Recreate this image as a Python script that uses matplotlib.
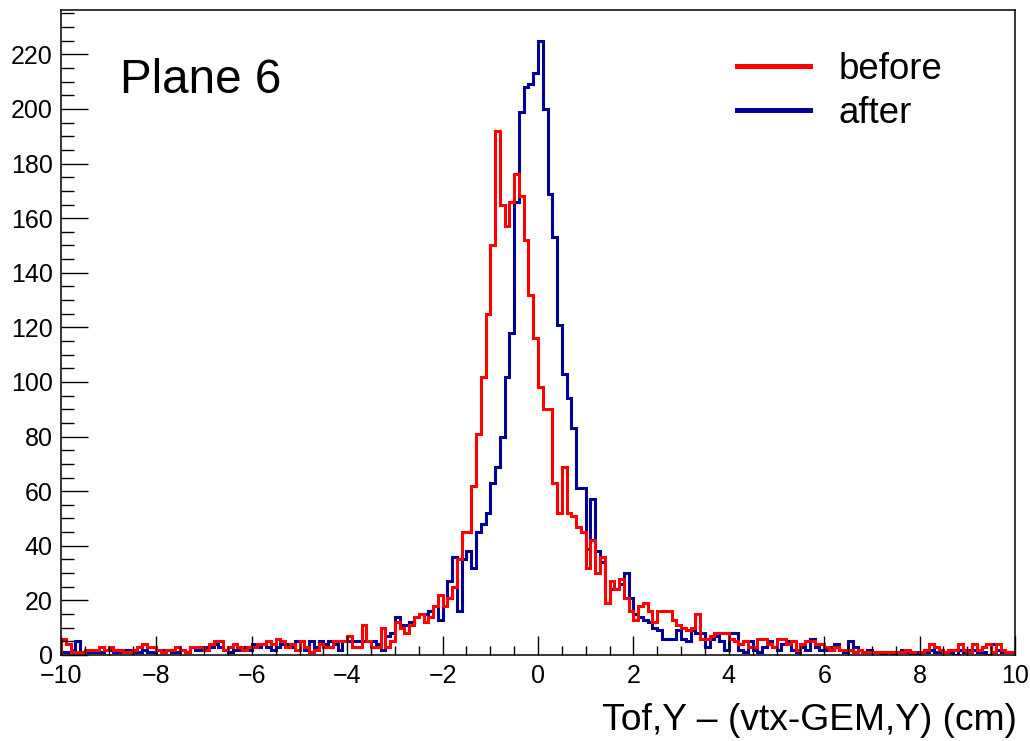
import numpy as np
import matplotlib
matplotlib.use("Agg")
import matplotlib.pyplot as plt
from matplotlib.lines import Line2D
from matplotlib.ticker import MultipleLocator

plt.rcParams['font.family'] = ['Liberation Sans', 'DejaVu Sans']

# 200 bins from -10 to 10 (width 0.1)
bin_edges = np.linspace(-10, 10, 201)

before = [
    6, 4, 1, 1, 1, 2, 2, 2, 3, 2,
    3, 2, 2, 1, 1, 2, 3, 4, 3, 3,
    2, 1, 2, 2, 3, 2, 1, 3, 3, 3,
    2, 4, 5, 5, 2, 3, 4, 3, 2, 3,
    3, 4, 4, 5, 4, 6, 5, 3, 4, 2,
    5, 3, 1, 2, 4, 3, 3, 5, 5, 5,
    7, 3, 3, 11, 5, 3, 3, 10, 3, 5,
    12, 10, 8, 11, 14, 15, 12, 14, 18, 22,
    18, 21, 25, 35, 45, 45, 62, 81, 102, 125,
    150, 192, 165, 157, 166, 176, 168, 152, 132, 116,
    98, 90, 90, 63, 52, 69, 52, 51, 47, 45,
    32, 42, 30, 36, 19, 27, 24, 28, 21, 16,
    13, 18, 19, 16, 12, 16, 16, 16, 13, 11,
    10, 9, 10, 15, 6, 6, 7, 8, 8, 8,
    6, 5, 4, 5, 3, 3, 6, 6, 4, 3,
    6, 6, 4, 5, 2, 4, 5, 5, 4, 4,
    3, 2, 3, 2, 2, 2, 1, 2, 1, 1,
    1, 1, 1, 1, 1, 1, 1, 2, 1, 0,
    1, 2, 4, 3, 2, 1, 2, 2, 4, 2,
    1, 4, 2, 3, 4, 1, 4, 2, 1, 1,
]

after = [
    1, 1, 2, 5, 1, 1, 1, 1, 1, 2,
    2, 1, 1, 2, 2, 1, 1, 2, 1, 1,
    2, 2, 2, 1, 1, 2, 1, 3, 2, 2,
    3, 3, 4, 3, 2, 1, 2, 2, 3, 2,
    4, 3, 4, 3, 2, 3, 4, 4, 3, 5,
    5, 2, 5, 3, 5, 4, 5, 4, 2, 5,
    5, 5, 5, 5, 5, 5, 4, 2, 7, 8,
    14, 11, 11, 12, 14, 15, 15, 16, 18, 13,
    18, 27, 36, 16, 35, 38, 32, 45, 48, 52,
    63, 69, 80, 102, 118, 166, 199, 208, 209, 213,
    225, 200, 169, 153, 121, 103, 94, 83, 61, 61,
    39, 57, 38, 34, 19, 24, 24, 26, 30, 21,
    15, 14, 13, 12, 10, 9, 6, 6, 6, 9,
    6, 5, 9, 8, 8, 3, 6, 7, 5, 2,
    8, 8, 2, 1, 5, 2, 1, 3, 5, 3,
    2, 4, 5, 2, 1, 3, 2, 6, 3, 2,
    2, 3, 4, 2, 1, 5, 3, 2, 1, 2,
    1, 1, 0, 1, 0, 1, 2, 1, 0, 1,
    1, 1, 2, 1, 1, 1, 1, 0, 2, 1,
    2, 2, 1, 1, 0, 4, 2, 1, 1, 1,
]

series_labels = ["before", "after"]
title_text = "Plane 6"
x_label = "Tof,Y \u2013 (vtx-GEM,Y) (cm)"

RED = "#ff0000"
BLUE = "#000099"

fig = plt.figure(figsize=(10.30, 7.41), dpi=100)
ax = fig.add_axes([61/1030, 1 - 655/741, 954/1030, 645/741])

ax.stairs(after, bin_edges, baseline=0, fill=False, color=BLUE, linewidth=2.2)
ax.stairs(before, bin_edges, baseline=0, fill=False, color=RED, linewidth=2.2)

ax.set_xlim(-10, 10)
ax.set_ylim(0, 236.25)

ax.xaxis.set_major_locator(MultipleLocator(2))
ax.xaxis.set_minor_locator(MultipleLocator(0.5))
ax.yaxis.set_major_locator(MultipleLocator(20))
ax.yaxis.set_minor_locator(MultipleLocator(5))

ax.tick_params(axis='x', which='major', direction='in', length=13.7, width=1.0,
               labelsize=18, pad=6.5, top=False)
ax.tick_params(axis='x', which='minor', direction='in', length=6.8, width=1.0, top=False)
ax.tick_params(axis='y', which='major', direction='in', length=19.4, width=1.0,
               labelsize=18, pad=6, right=False)
ax.tick_params(axis='y', which='minor', direction='in', length=9.7, width=1.0, right=False)

for sp in ax.spines.values():
    sp.set_linewidth(1.1)

ax.set_xlabel(x_label, fontsize=26.85, ha='right')
ax.xaxis.set_label_coords(1.0023, -0.075)

ax.text(0.0618, 0.871, title_text, transform=ax.transAxes, fontsize=34.3,
        ha='left', va='baseline')

handles = [Line2D([], [], color=RED, linewidth=3.6),
           Line2D([], [], color=BLUE, linewidth=3.6)]
ax.legend(handles, series_labels, loc='upper left',
          bbox_to_anchor=((737 - 61) / 954, 0.9346), frameon=False,
          fontsize=26.4, handlelength=2.0, handletextpad=0.76,
          labelspacing=0.24, borderpad=0, borderaxespad=0)

fig.savefig("out.png", dpi=100)
